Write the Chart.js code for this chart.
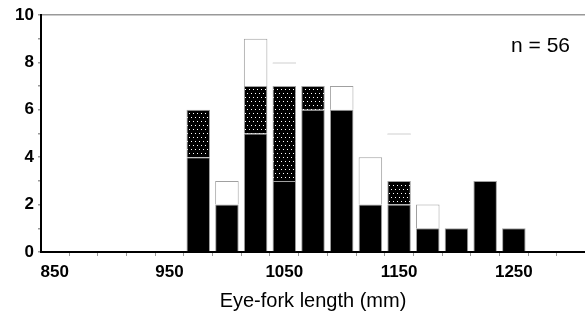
<!DOCTYPE html>
<html>
<head>
<meta charset="utf-8">
<script src="https://cdn.jsdelivr.net/npm/chart.js@4.4.1/dist/chart.umd.min.js"></script>
<style>
    html, body { margin: 0; padding: 0; background: #fff; }
    #wrap { width: 585px; height: 324px; }
</style>
</head>
<body>
<div id="wrap"><canvas id="lengthChart"></canvas></div>
<script>
// ---------------- DATA ----------------

// 25 mm length classes, by class centre
const binCentres   = [975, 1000, 1025, 1050, 1075, 1100, 1125, 1150, 1175, 1200, 1225, 1250];
const solidCounts  = [4, 2, 5, 3, 6, 6, 2, 2, 1, 1, 3, 1];
const dottedCounts = [2, 0, 2, 4, 1, 0, 0, 1, 0, 0, 0, 0];
const openCounts   = [0, 1, 2, 1, 0, 1, 2, 2, 1, 0, 0, 0];

const xTickLabels = [850, 950, 1050, 1150, 1250];
const yTickLabels = [0, 2, 4, 6, 8, 10];
const xTitle = "Eye-fork length (mm)";

// open segments drawn with a top line only in the original
const topLineOnly = [1050, 1150];

const total = [solidCounts, dottedCounts, openCounts]
    .flat()
    .reduce((a, b) => a + b, 0);

function toPoints(counts) {
    return binCentres.map((x, i) => ({ x: x, y: counts[i] > 0 ? counts[i] : null }));
}


// ---------------- STYLE ----------------

const FONT = '"Liberation Sans", Arial, sans-serif';
const EDGE = "#a0a0a0";

function makeDots() {
    const c = document.createElement("canvas");
    c.width = 4;
    c.height = 8;
    const g = c.getContext("2d");
    g.fillStyle = "#000";
    g.fillRect(0, 0, 4, 8);
    g.fillStyle = "#fff";
    g.fillRect(1, 1, 1, 1);
    g.fillRect(3, 5, 1, 1);
    return g.createPattern(c, "repeat");
}

const sampleSizeLabel = {
    id: "sampleSizeLabel",
    afterDraw(chart) {
        const { ctx, chartArea } = chart;
        ctx.save();
        ctx.font = "21px " + FONT;
        ctx.fillStyle = "#000";
        ctx.textAlign = "right";
        ctx.textBaseline = "middle";
        ctx.fillText("n = " + total, chartArea.right - 15, chartArea.top + 31);
        ctx.restore();
    }
};


// ---------------- CHART ----------------

Chart.defaults.font.family = FONT;
Chart.defaults.color = "#000";

new Chart(document.getElementById("lengthChart"), {
    type: "bar",
    data: {
        datasets: [
            {
                label: "solid",
                data: toPoints(solidCounts),
                backgroundColor: "#000",
                borderColor: EDGE,
                borderWidth: 1
            },
            {
                label: "dotted",
                data: toPoints(dottedCounts),
                backgroundColor: makeDots(),
                borderColor: EDGE,
                borderWidth: 1
            },
            {
                label: "open",
                data: toPoints(openCounts),
                backgroundColor: "#fff",
                borderColor: EDGE,
                borderSkipped: false,
                borderWidth: ctx => {
                    const raw = ctx.raw;
                    if (raw && topLineOnly.includes(raw.x)) {
                        return { top: 1, left: 0, right: 0, bottom: 0 };
                    }
                    return { top: 1, left: 1, right: 1, bottom: 0 };
                }
            }
        ]
    },
    options: {
        responsive: true,
        maintainAspectRatio: false,
        animation: false,
        barPercentage: 0.82,
        categoryPercentage: 1,
        layout: { padding: { top: 15, right: 0, bottom: 0, left: 0 } },
        plugins: {
            legend: { display: false },
            tooltip: { enabled: false }
        },
        scales: {
            x: {
                type: "linear",
                min: 838,
                max: 1312,
                offset: false,
                stacked: true,
                afterFit: s => { s.height = 72; },
                ticks: {
                    stepSize: 25,
                    includeBounds: false,
                    autoSkip: false,
                    maxRotation: 0,
                    padding: 6,
                    font: { size: 17, weight: "bold" },
                    callback: v => xTickLabels.includes(v) ? String(v) : ""
                },
                grid: {
                    drawOnChartArea: false,
                    tickLength: 4,
                    color: "#999"
                },
                border: { color: "#000", width: 2 },
                title: {
                    display: true,
                    text: xTitle,
                    font: { size: 20 },
                    padding: { top: 0, bottom: 11 }
                }
            },
            y: {
                min: 0,
                max: 10,
                stacked: true,
                afterFit: s => { s.width = 41; },
                ticks: {
                    stepSize: 1,
                    autoSkip: false,
                    padding: 4,
                    font: { size: 17, weight: "bold" },
                    callback: v => yTickLabels.includes(v) ? String(v) : ""
                },
                grid: {
                    tickLength: 3,
                    lineWidth: 1.5,
                    color: ctx => ctx.tick && ctx.tick.value === 10 ? "#999" : "rgba(0,0,0,0)",
                    tickColor: "#999"
                },
                border: { color: "#000", width: 2 }
            }
        }
    },
    plugins: [sampleSizeLabel]
});
</script>
</body>
</html>
